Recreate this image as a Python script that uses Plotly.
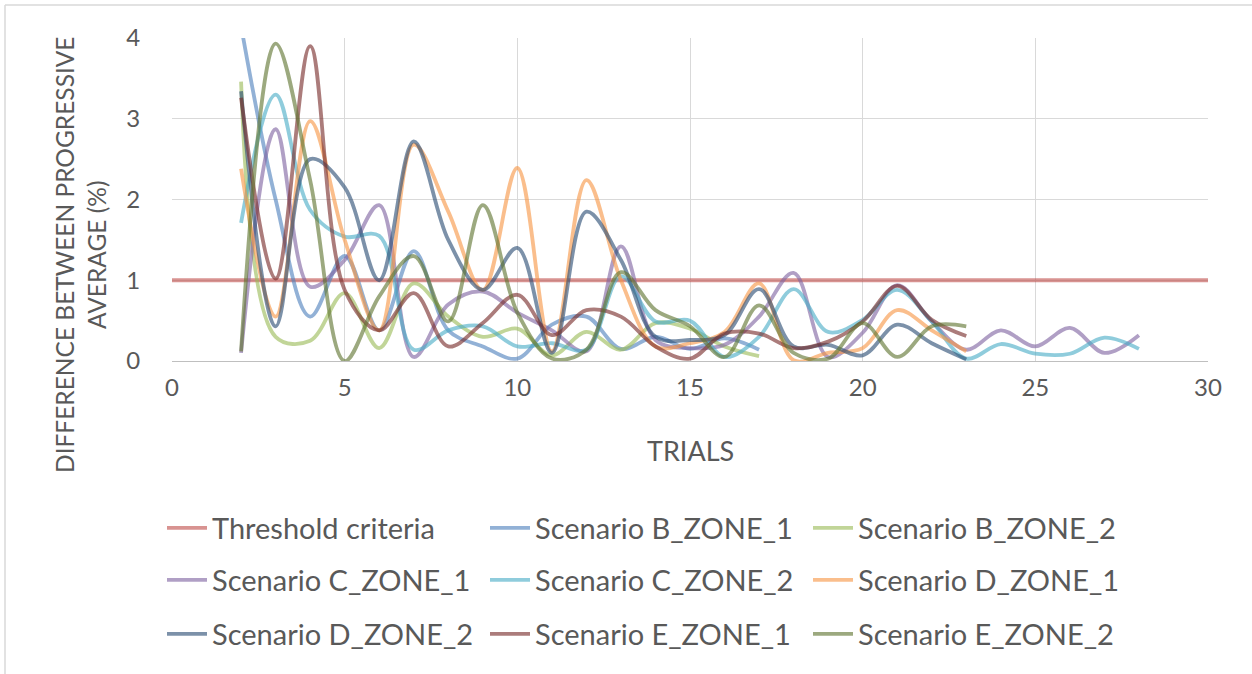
import plotly.graph_objects as go

# ---------------- data ----------------
threshold_x = [0, 30]
threshold_y = [1, 1]

trials_B = list(range(2, 18))
trials_C = list(range(2, 29))
trials_DE = list(range(2, 24))

b_zone_1 = [4.15, 2.0, 0.55, 1.3, 0.38, 1.36, 0.38, 0.18, 0.03, 0.45, 0.55, 0.15, 0.3, 0.15, 0.28, 0.14]
b_zone_2 = [3.46, 0.3, 0.25, 0.84, 0.16, 0.96, 0.55, 0.3, 0.4, 0.07, 0.36, 0.14, 0.47, 0.4, 0.18, 0.06]
c_zone_1 = [0.1, 2.87, 0.92, 1.25, 1.93, 0.05, 0.7, 0.86, 0.6, 0.38, 0.12, 1.42, 0.26, 0.16, 0.2, 0.55,
            1.09, 0.05, 0.35, 0.94, 0.49, 0.14, 0.38, 0.18, 0.41, 0.1, 0.32]
c_zone_2 = [1.71, 3.3, 1.87, 1.54, 1.55, 0.14, 0.38, 0.43, 0.18, 0.22, 0.14, 1.05, 0.49, 0.5, 0.05, 0.3,
            0.89, 0.36, 0.51, 0.88, 0.49, 0.03, 0.21, 0.09, 0.09, 0.29, 0.15]
d_zone_1 = [2.38, 0.55, 2.97, 1.5, 0.38, 2.68, 1.85, 0.88, 2.39, 0.12, 2.24, 1.0, 0.18, 0.22, 0.36, 0.96,
            0.01, 0.1, 0.16, 0.63, 0.38, 0.12]
d_zone_2 = [3.34, 0.43, 2.5, 2.15, 1.0, 2.72, 1.5, 0.88, 1.4, 0.1, 1.85, 1.25, 0.3, 0.26, 0.32, 0.89,
            0.18, 0.2, 0.07, 0.45, 0.22, 0.02]
e_zone_1 = [3.26, 1.02, 3.9, 0.88, 0.38, 0.84, 0.18, 0.47, 0.82, 0.32, 0.63, 0.55, 0.18, 0.03, 0.34, 0.34,
            0.16, 0.24, 0.49, 0.93, 0.51, 0.31]
e_zone_2 = [0.12, 3.93, 2.24, 0.0, 0.8, 1.3, 0.49, 1.93, 0.6, 0.03, 0.14, 1.1, 0.63, 0.43, 0.05, 0.69,
            0.1, 0.03, 0.47, 0.05, 0.43, 0.43]

x_ticks = [0, 5, 10, 15, 20, 25, 30]
y_ticks = [0, 1, 2, 3, 4]

# ---------------- figure ----------------
W, H = 1252, 674
L, R, T, B = 172, 1208, 38, 361          # plot area in window pixels
pw, ph = R - L, B - T


def px(x):
    return (x - L) / pw


def py(y):
    return (B - y) / ph


FONT = "Lato"
TXT = "#595959"
ALPHA = 0.62

series = [
    ("Threshold criteria", threshold_x, threshold_y, (192, 80, 77), "legend"),
    ("Scenario B_ZONE_1", trials_B, b_zone_1, (79, 129, 189), "legend"),
    ("Scenario B_ZONE_2", trials_B, b_zone_2, (155, 187, 89), "legend"),
    ("Scenario C_ZONE_1", trials_C, c_zone_1, (128, 100, 162), "legend2"),
    ("Scenario C_ZONE_2", trials_C, c_zone_2, (75, 172, 198), "legend2"),
    ("Scenario D_ZONE_1", trials_DE, d_zone_1, (247, 150, 70), "legend2"),
    ("Scenario D_ZONE_2", trials_DE, d_zone_2, (44, 77, 117), "legend3"),
    ("Scenario E_ZONE_1", trials_DE, e_zone_1, (119, 44, 42), "legend3"),
    ("Scenario E_ZONE_2", trials_DE, e_zone_2, (95, 117, 48), "legend3"),
]

fig = go.Figure()
for name, xs, ys, rgb, lg in series:
    fig.add_trace(go.Scatter(
        x=xs, y=ys, name=name, mode="lines",
        line=dict(color=f"rgba({rgb[0]},{rgb[1]},{rgb[2]},{ALPHA})", width=3.8,
                  shape="spline", smoothing=1.0),
        legend=lg,
    ))

leg_common = dict(orientation="h", xanchor="left", yanchor="middle",
                  font=dict(family=FONT, size=29, color=TXT),
                  entrywidth=268, entrywidthmode="pixels",
                  bgcolor="rgba(0,0,0,0)", itemwidth=40)

fig.update_layout(
    width=W, height=H,
    margin=dict(l=L, r=W - R, t=T, b=H - B, autoexpand=False),
    paper_bgcolor="white", plot_bgcolor="white",
    font=dict(family=FONT, size=24, color=TXT),
    showlegend=True,
    legend=dict(x=px(162), y=py(528), **leg_common),
    legend2=dict(x=px(162), y=py(580), **leg_common),
    legend3=dict(x=px(162), y=py(634), **leg_common),
    xaxis=dict(range=[0, 30], tickvals=x_ticks, showgrid=True, gridcolor="#D9D9D9", gridwidth=1.3,
               zeroline=False, showline=True, linecolor="#BFBFBF", linewidth=1.3,
               ticks="outside", ticklen=5, tickcolor="rgba(0,0,0,0)",
               tickfont=dict(family=FONT, size=24, color=TXT)),
    yaxis=dict(range=[0, 4], tickvals=y_ticks, showgrid=True, gridcolor="#D9D9D9", gridwidth=1.3,
               zeroline=False, showline=False,
               ticks="outside", ticklen=26, tickcolor="rgba(0,0,0,0)",
               tickfont=dict(family=FONT, size=24, color=TXT)),
    annotations=[
        dict(text="TRIALS", xref="paper", yref="paper", x=px(690), y=py(450),
             showarrow=False, font=dict(family=FONT, size=27, color=TXT),
             xanchor="center", yanchor="middle"),
        dict(text="DIFFERENCE BETWEEN PROGRESSIVE<br>AVERAGE (%)", xref="paper", yref="paper",
             x=px(80), y=py(255), textangle=-90, showarrow=False,
             font=dict(family=FONT, size=24.5, color=TXT),
             xanchor="center", yanchor="middle"),
    ],
    shapes=[
        dict(type="line", xref="paper", yref="paper", x0=px(5), x1=px(5), y0=py(5), y1=py(700),
             line=dict(color="#D9D9D9", width=1.5)),
        dict(type="line", xref="paper", yref="paper", x0=px(5), x1=px(1270), y0=py(5), y1=py(5),
             line=dict(color="#D9D9D9", width=1.5)),
    ],
)

fig.write_html("out.html", config={"displayModeBar": False},
               post_script="document.body.style.margin='0';document.body.style.overflow='hidden';")
